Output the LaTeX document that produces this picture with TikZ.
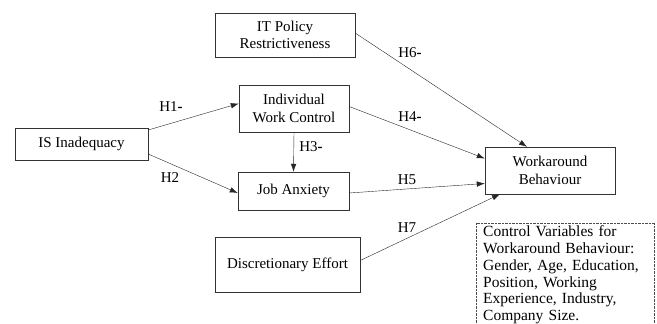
\documentclass[tikz,border=0pt]{standalone}
\usepackage{fontspec}
\setmainfont{Liberation Serif}
\usepackage{tikz}
\usetikzlibrary{positioning,calc}
\usetikzlibrary{arrows.meta}
\tikzstyle{box} = [draw=black!80, rectangle, align=center, inner sep=2pt, font=\fontsize{15}{17.3}\selectfont]
\tikzstyle{hyp} = [font=\fontsize{15}{17.3}\selectfont, inner sep=1pt]
\tikzstyle{arrow} = [-{Latex[length=8pt,width=5.5pt]},black!85]
\newcommand{\hm}{\textbf{-}}

\begin{document}
\begin{tikzpicture}[x=1pt,y=-1pt]
    \useasboundingbox (0,0) rectangle (657,324);
    % Konstrukte
    \node[box, minimum width=140pt, minimum height=44pt] (it) at (285,35) {IT Policy\\Restrictiveness};
    \node[box, minimum width=110pt, minimum height=47pt] (iwc) at (294,108.5) {Individual\\Work Control};
    \node[box, minimum width=133pt, minimum height=32pt] (is) at (81.5,144) {IS Inadequacy};
    \node[box, minimum width=111pt, minimum height=38pt] (ja) at (293.5,191) {Job Anxiety};
    \node[box, minimum width=130pt, minimum height=47pt] (wb) at (550,170.5) {Workaround\\Behaviour};
    \node[box, minimum width=145pt, minimum height=55pt] (de) at (287.5,264.5) {Discretionary Effort};

    % Kontrollvariablen
    \node[anchor=north west, align=left, text width=166pt, inner xsep=7pt, inner ysep=4.5pt,
          font=\fontsize{15.5}{16.8}\selectfont] (ctrl) at (476,221)
        {Control Variables for\\Workaround Behaviour:\\Gender, Age, Education,\\Position, Working\\Experience, Industry,\\Company Size.};
    \draw[black!70, densely dotted] ([yshift=-2pt]ctrl.north west) rectangle ([xshift=-2pt,yshift=-30pt]ctrl.south east);

    % Pfade
    \draw[arrow] ([yshift=14pt]is.east) -- ([yshift=5pt]iwc.west);
    \draw[arrow] ([yshift=-10pt]is.east) -- ([yshift=-2pt]ja.west);
    \draw[arrow] (iwc.south) -- (ja.north);
    \draw[arrow] ([yshift=2pt]iwc.east) -- ([yshift=12pt]wb.west);
    \draw[arrow] ([yshift=2pt]it.east) -- ([xshift=-23pt]wb.north);
    \draw[arrow] ([yshift=-2pt]ja.east) -- ([yshift=-13pt]wb.west);
    \draw[arrow] ([yshift=4pt]de.east) -- ([xshift=-50pt]wb.south);

    % Hypothesen
    \node[hyp] (h1) at (171,107) {H1\hm};
    \node[hyp] (h2) at (170,178) {H2};
    \node[hyp] (h3) at (311,147) {H3\hm};
    \node[hyp] (h4) at (410,117) {H4\hm};
    \node[hyp] (h5) at (407,180) {H5};
    \node[hyp] (h6) at (410,53) {H6\hm};
    \node[hyp] (h7) at (407,228) {H7};
\end{tikzpicture}
\end{document}
